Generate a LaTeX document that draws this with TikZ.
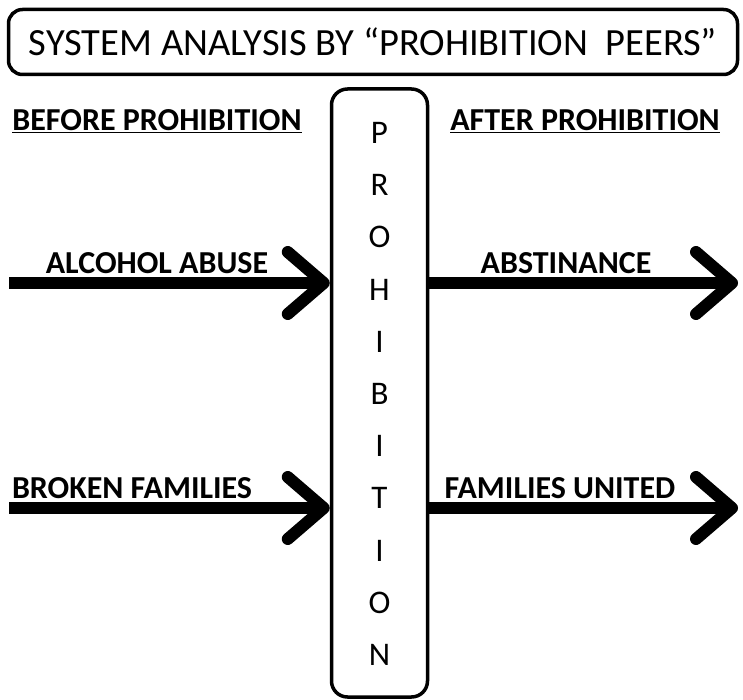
\documentclass[tikz,border=0pt]{standalone}
\usepackage{fontspec}
\setmainfont{Carlito}
\usetikzlibrary{positioning,arrows.meta}

\tikzset{
  frame/.style={draw=black,line width=3.5pt,rounded corners=14pt},
  heading/.style={font=\fontsize{32}{36}\selectfont\bfseries,inner sep=0pt},
  flowlabel/.style={font=\fontsize{32}{36}\selectfont\bfseries,inner sep=0pt,anchor=base},
  bigarrow/.style={line width=12pt,-{Straight Barb[length=36pt,width=62pt,round]}},
}

\begin{document}
\begin{tikzpicture}[x=1pt,y=-1pt]
	\useasboundingbox (0,0) rectangle (743,700);
	\node[frame,minimum width=729pt,minimum height=65pt,font=\fontsize{38.5}{42}\selectfont] (title) at (373,42) {SYSTEM ANALYSIS BY “PROHIBITION\ \ PEERS”};
	\node[frame,minimum width=96pt,minimum height=608pt,rounded corners=16pt] (prohib) at (379.5,393) {};
	\foreach \l [count=\i from 0] in {P,R,O,H,I,B,I,T,I,O,N}
		\node[font=\fontsize{33}{36}\selectfont] (let\i) at (379.5,133+52.2*\i) {\l};
	
	\node[heading] (before) at (157,121) {\underline{BEFORE PROHIBITION}};
	\node[heading] (after) at (585,121) {\underline{AFTER PROHIBITION}};
	
	% flows into and out of the box
	\coordinate (in1) at (9,283);
	\coordinate (out1) at (738,283);
	\coordinate (in2) at (9,508);
	\coordinate (out2) at (738,508);
	\draw[bigarrow] (in1) -- (in1 -| prohib.west);
	\draw[bigarrow] (in1 -| prohib.east) -- (out1);
	\draw[bigarrow] (in2) -- (in2 -| prohib.west);
	\draw[bigarrow] (in2 -| prohib.east) -- (out2);
	
	\node[flowlabel] (alcohol) at (157,273) {ALCOHOL ABUSE};
	\node[flowlabel] (abstain) at (566,273) {ABSTINANCE};
	\node[flowlabel] (broken) at (132,498) {BROKEN FAMILIES};
	\node[flowlabel] (united) at (560,498) {FAMILIES UNITED};
\end{tikzpicture}
\end{document}
